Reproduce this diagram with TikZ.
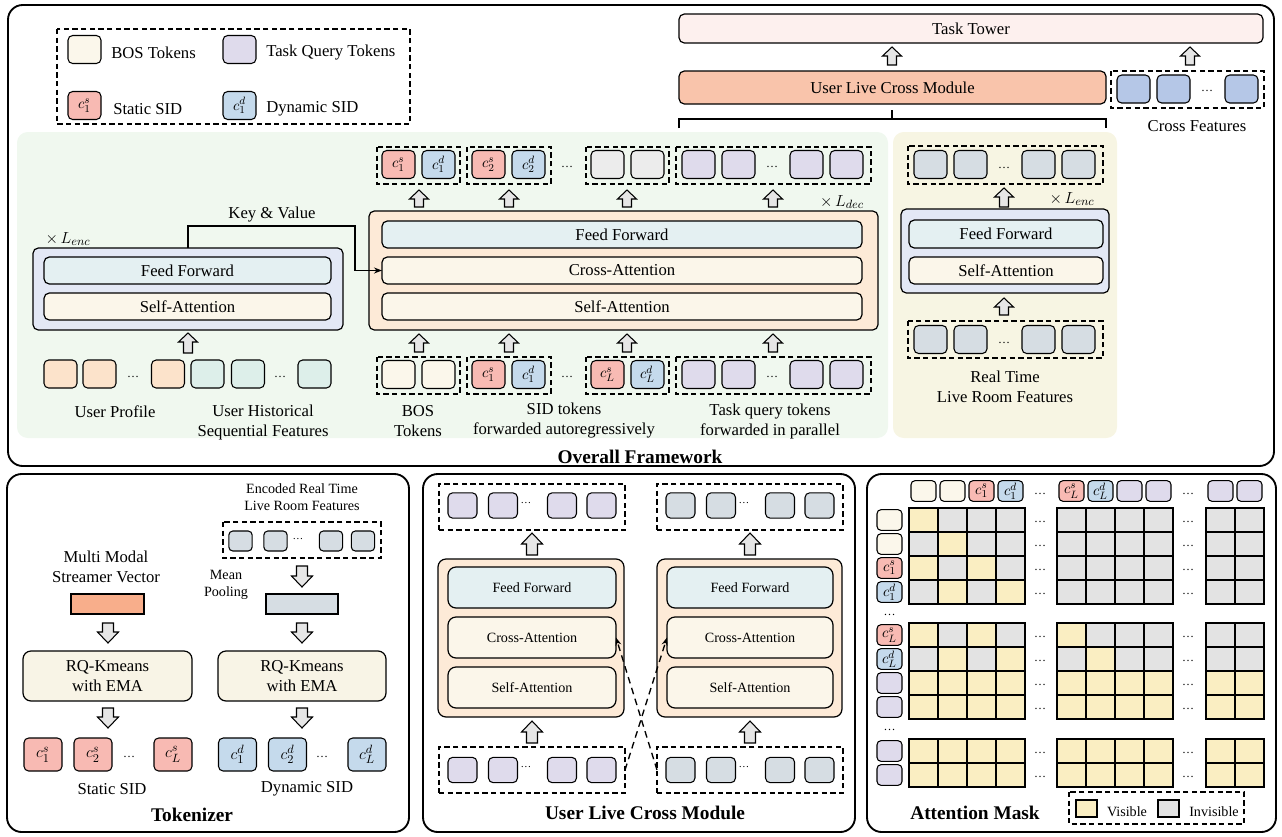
\documentclass[tikz,border=0pt]{standalone}
\usepackage{fontspec}
\setmainfont{Liberation Serif}
\usetikzlibrary{arrows.meta}
\definecolor{greenbg}{HTML}{F0F8EF}
\definecolor{yellowbg}{HTML}{F7F5E3}
\definecolor{decpeach}{HTML}{FDEAD7}
\definecolor{enclav}{HTML}{E3E8F5}
\definecolor{ffblue}{HTML}{E4F0F2}
\definecolor{attcream}{HTML}{FBF6EA}
\definecolor{ulcmsalmon}{HTML}{F9C4AB}
\definecolor{towerpink}{HTML}{FDF0EE}
\definecolor{sidred}{HTML}{F8BAB3}
\definecolor{sidblue}{HTML}{C5DAEC}
\definecolor{bosc}{HTML}{FBF7EB}
\definecolor{taskp}{HTML}{DFDBEC}
\definecolor{greytok}{HTML}{ECECEC}
\definecolor{profc}{HTML}{FCE3CB}
\definecolor{histc}{HTML}{DDEFEA}
\definecolor{livec}{HTML}{D6DDE3}
\definecolor{crossc}{HTML}{B5C7E7}
\definecolor{streamc}{HTML}{F8AE8B}
\definecolor{visc}{HTML}{FAEEC2}
\definecolor{invc}{HTML}{E3E3E3}
\definecolor{arrg}{HTML}{E6E6E6}
\definecolor{rqc}{HTML}{F8F4E6}
\newcommand\mybx[7]{\node[#1, minimum width={(#5-#3)*0.75pt}, minimum height={(#6-#4)*0.75pt}] (#2) at ({(#3+#5)/2},{(#4+#6)/2}) {#7};}
\newcommand\mytk[6]{\node[#1, fill=#5] (#2) at (#3,#4) {#6};}
\newcommand\mydots[3]{\node[dotn] (#1) at (#2,#3) {\dots};}
\newcommand\myarr[6]{\draw[barrow] ({#1-#4},#2) -- ({#1-#4},{#3+#6*sign(#2-#3)}) -- ({#1-#5},{#3+#6*sign(#2-#3)}) -- (#1,#3) -- ({#1+#5},{#3+#6*sign(#2-#3)}) -- ({#1+#4},{#3+#6*sign(#2-#3)}) -- ({#1+#4},#2) -- cycle;}
\newcommand\arrA[3]{\myarr{#1}{#2}{#3}{4.5}{9.5}{9}}
\newcommand\arrB[3]{\myarr{#1}{#2}{#3}{5.5}{10.5}{11}}
\begin{document}
\begin{tikzpicture}[x=0.75pt,y=-0.75pt, font=\fontsize{12.5}{15}\selectfont,
 tok/.style={draw, line width=0.8pt, rounded corners=3.5pt, inner sep=0pt, outer sep=0pt},
 tokA/.style={tok, minimum width=24.75pt, minimum height=21pt, font=\fontsize{11}{12}\selectfont},
 tokB/.style={tok, minimum width=21.75pt, minimum height=19pt},
 tokC/.style={tok, minimum width=17.5pt, minimum height=15pt, rounded corners=3pt},
 tokD/.style={tok, minimum width=28.5pt, minimum height=24.75pt, font=\fontsize{12.5}{13}\selectfont},
 tokE/.style={tok, minimum width=18.75pt, minimum height=15.5pt, rounded corners=3pt, font=\fontsize{11}{12}\selectfont},
 blk/.style={draw, line width=0.9pt, rounded corners=4pt, inner sep=0pt, outer sep=0pt, align=center},
 sq/.style={draw, line width=0.9pt, inner sep=0pt, outer sep=0pt},
 grp/.style={draw, line width=0.8pt, dash pattern=on 4pt off 2.5pt, inner sep=0pt, outer sep=0pt},
 panel/.style={draw, line width=1.4pt, rounded corners=11pt},
 barrow/.style={draw, fill=arrg, line width=0.8pt, line join=miter},
 dotn/.style={inner sep=0pt, font=\fontsize{9}{10}\selectfont},
 ttl/.style={inner sep=0pt, font=\fontsize{14.5}{17}\selectfont\bfseries},
 small/.style={font=\fontsize{10.6}{13}\selectfont},
 lbl/.style={align=center, inner sep=0pt},
 cell/.style={draw, line width=0.9pt},
]
\useasboundingbox (0,0) rectangle (1282,836);

% ================= Overall framework =================
\draw[panel] (8,5) rectangle (1274,466);
\node[ttl] (tOverall) at (640,457) {Overall Framework};
\fill[greenbg, rounded corners=8pt] (17,132) rectangle (888,438);
\fill[yellowbg, rounded corners=8pt] (893,132) rectangle (1117,438);

% legend
\draw[grp] (57,29) rectangle (410,124);
\mytk{tokA}{lgBos}{84.5}{49.5}{bosc}{}
\node[anchor=west, inner sep=0pt] (lgBosT) at (111,53) {BOS Tokens};
\mytk{tokA}{lgTask}{239.5}{49.5}{taskp}{}
\node[anchor=west, inner sep=0pt] (lgTaskT) at (266,53) {Task Query Tokens};
\mytk{tokA}{lgS}{84.5}{105.5}{sidred}{$c_1^s$}
\node[anchor=west, inner sep=0pt] (lgST) at (113,109) {Static SID};
\mytk{tokA}{lgD}{239.5}{105.5}{sidblue}{$c_1^d$}
\node[anchor=west, inner sep=0pt] (lgDT) at (266,109) {Dynamic SID};

% task tower / ULCM
\mybx{blk, fill=towerpink}{tower}{679}{14}{1263}{43}{Task Tower}
\mybx{blk, fill=ulcmsalmon}{ulcm}{679}{71}{1106}{104}{User Live Cross Module}
\arrA{892}{65}{47}
\arrA{1190}{65}{47}
\draw[grp] (1111,71) rectangle (1264,108);
\mytk{tokA}{cf1}{1133.5}{89}{crossc}{}
\mytk{tokA}{cf2}{1173.5}{89}{crossc}{}
\mydots{cfd}{1207}{91}
\mytk{tokA}{cf3}{1241.5}{89}{crossc}{}
\node[lbl] (cfT) at (1197,126) {Cross Features};
\draw[line width=1pt] (679,128) -- (679,119) -- (1106,119) -- (1106,128);
\draw[line width=1pt] (892,110) -- (892,119);

% decoder outputs
\draw[grp] (377,147) rectangle (460,184);
\draw[grp] (467,147) rectangle (551,184);
\draw[grp] (586,147) rectangle (669,184);
\draw[grp] (676,147) rectangle (871,184);
\mytk{tokA}{o1s}{398.5}{164.5}{sidred}{$c_1^s$}
\mytk{tokA}{o1d}{438.5}{164.5}{sidblue}{$c_1^d$}
\mytk{tokA}{o2s}{488.5}{164.5}{sidred}{$c_2^s$}
\mytk{tokA}{o2d}{528.5}{164.5}{sidblue}{$c_2^d$}
\mydots{od1}{567}{167}
\mytk{tokA}{og1}{607.5}{164.5}{greytok}{}
\mytk{tokA}{og2}{647.5}{164.5}{greytok}{}
\mytk{tokA}{oq1}{698.5}{164.5}{taskp}{}
\mytk{tokA}{oq2}{738.5}{164.5}{taskp}{}
\mydots{od2}{772}{167}
\mytk{tokA}{oq3}{806.5}{164.5}{taskp}{}
\mytk{tokA}{oq4}{846.5}{164.5}{taskp}{}
\arrA{419}{207}{190}
\arrA{509}{207}{190}
\arrA{627}{207}{190}
\arrA{773}{207}{190}
\node[inner sep=0pt] (ldec) at (842,202) {$\times\,L_{dec}$};

% decoder
\mybx{blk, fill=decpeach}{dec}{369}{211}{878}{330}{}
\mybx{blk, fill=ffblue}{dff}{382}{221}{862}{248}{Feed Forward}
\mybx{blk, fill=attcream}{dca}{382}{257}{862}{284}{Cross-Attention}
\mybx{blk, fill=attcream}{dsa}{382}{293}{862}{320}{Self-Attention}
\arrA{419}{352}{334}
\arrA{509}{352}{334}
\arrA{627}{352}{334}
\arrA{773}{352}{334}

% decoder inputs
\draw[grp] (377,357) rectangle (460,394);
\draw[grp] (467,357) rectangle (551,394);
\draw[grp] (586,357) rectangle (669,394);
\draw[grp] (676,357) rectangle (871,394);
\mytk{tokA}{ib1}{398.5}{374.5}{bosc}{}
\mytk{tokA}{ib2}{438.5}{374.5}{bosc}{}
\mytk{tokA}{i1s}{488.5}{374.5}{sidred}{$c_1^s$}
\mytk{tokA}{i1d}{528.5}{374.5}{sidblue}{$c_1^d$}
\mydots{id1}{567}{377}
\mytk{tokA}{iLs}{607.5}{374.5}{sidred}{$c_L^s$}
\mytk{tokA}{iLd}{647.5}{374.5}{sidblue}{$c_L^d$}
\mytk{tokA}{iq1}{698.5}{374.5}{taskp}{}
\mytk{tokA}{iq2}{738.5}{374.5}{taskp}{}
\mydots{id2}{772}{377}
\mytk{tokA}{iq3}{806.5}{374.5}{taskp}{}
\mytk{tokA}{iq4}{846.5}{374.5}{taskp}{}
\node[lbl] (bosT) at (418,421) {BOS\\Tokens};
\node[lbl] (sidT) at (564,421) {SID tokens\\forwarded autoregressively};
\node[lbl] (tqT) at (770,421) {Task query tokens\\forwarded in parallel};

% left encoder
\node[inner sep=0pt] (lenc1) at (68,239) {$\times\,L_{enc}$};
\mybx{blk, fill=enclav}{enc}{33}{248}{343}{330}{}
\mybx{blk, fill=ffblue}{eff}{44}{257}{331}{284}{Feed Forward}
\mybx{blk, fill=attcream}{esa}{44}{293}{331}{320}{Self-Attention}
\arrA{188}{353}{333}
\mytk{tokA}{up1}{60.5}{374}{profc}{}
\mytk{tokA}{up2}{99.5}{374}{profc}{}
\mydots{upd}{133}{377}
\mytk{tokA}{up3}{168}{374}{profc}{}
\mytk{tokA}{uh1}{207.5}{374}{histc}{}
\mytk{tokA}{uh2}{248}{374}{histc}{}
\mydots{uhd}{280}{377}
\mytk{tokA}{uh3}{314.5}{374}{histc}{}
\node[lbl] (upT) at (115,412) {User Profile};
\node[lbl] (uhT) at (263,422) {User Historical\\Sequential Features};
\draw[line width=1.1pt, -{Stealth[length=6pt,width=4.5pt]}] (enc.north) |- (355,226) |- (dca.west);
\node[inner sep=0pt] (kvT) at (272,215) {Key \& Value};

% right encoder
\draw[grp] (908,146) rectangle (1103,184);
\mytk{tokA}{ro1}{930.5}{164.5}{livec}{}
\mytk{tokA}{ro2}{970.5}{164.5}{livec}{}
\mydots{rod}{1004}{168}
\mytk{tokA}{ro3}{1038.5}{164.5}{livec}{}
\mytk{tokA}{ro4}{1078.5}{164.5}{livec}{}
\arrA{1004}{207}{188}
\node[inner sep=0pt] (lenc2) at (1072,199) {$\times\,L_{enc}$};
\mybx{blk, fill=enclav}{renc}{901}{209}{1109}{293}{}
\mybx{blk, fill=ffblue}{rff}{909}{220}{1103}{248}{Feed Forward}
\mybx{blk, fill=attcream}{rsa}{909}{257}{1103}{284}{Self-Attention}
\arrA{1004}{315}{298}
\draw[grp] (908,321) rectangle (1103,358);
\mytk{tokA}{ri1}{930.5}{339.5}{livec}{}
\mytk{tokA}{ri2}{970.5}{339.5}{livec}{}
\mydots{rid}{1004}{343}
\mytk{tokA}{ri3}{1038.5}{339.5}{livec}{}
\mytk{tokA}{ri4}{1078.5}{339.5}{livec}{}
\node[lbl] (rtT) at (1005,387) {Real Time\\Live Room Features};

% ================= Tokenizer =================
\draw[panel] (7,474) rectangle (409,832);
\node[ttl] (tTok) at (192,815) {Tokenizer};
\node[lbl, small] (encT) at (302,497) {Encoded Real Time\\Live Room Features};
\draw[grp] (223,522) rectangle (381,558);
\mytk{tokC}{tl1}{240.5}{541}{livec}{}
\mytk{tokC}{tl2}{275.5}{541}{livec}{}
\node[dotn, font=\fontsize{8}{9}\selectfont] (tld) at (298,539) {\dots};
\mytk{tokC}{tl3}{331}{541}{livec}{}
\mytk{tokC}{tl4}{363}{541}{livec}{}
\arrB{302}{566}{587}
\node[lbl, small] (mpT) at (226,585) {Mean\\Pooling};
\mybx{sq, fill=livec}{mpv}{266}{594}{338}{614}{}
\node[lbl] (mmT) at (106,567) {Multi Modal\\Streamer Vector};
\mybx{sq, fill=streamc}{msv}{71}{594}{144}{614}{}
\arrB{108}{623}{643}
\arrB{302}{623}{643}
\mybx{blk, fill=rqc, rounded corners=6pt}{rq1}{23}{651}{192}{701}{RQ-Kmeans\\with EMA}
\mybx{blk, fill=rqc, rounded corners=6pt}{rq2}{218}{651}{386}{701}{RQ-Kmeans\\with EMA}
\arrB{108}{708}{728}
\arrB{302}{708}{728}
\mytk{tokD}{ss1}{43}{754.5}{sidred}{$c_1^s$}
\mytk{tokD}{ss2}{93}{754.5}{sidred}{$c_2^s$}
\mydots{ssd}{129}{757}
\mytk{tokD}{ss3}{173}{754.5}{sidred}{$c_L^s$}
\mytk{tokD}{ds1}{237.5}{754.5}{sidblue}{$c_1^d$}
\mytk{tokD}{ds2}{287.5}{754.5}{sidblue}{$c_2^d$}
\mydots{dsd}{322}{757}
\mytk{tokD}{ds3}{367}{754.5}{sidblue}{$c_L^d$}
\node[lbl] (ssT) at (112,789) {Static SID};
\node[lbl] (dsT) at (307,789) {Dynamic SID};

% ================= User Live Cross Module panel =================
\draw[panel] (423,474) rectangle (855,832);
\node[ttl] (tUlcm) at (645,813) {User Live Cross Module};
% left column
\mybx{grp}{ltop}{439}{484}{625}{530}{}
\mytk{tokB}{lt1}{462.5}{505.5}{taskp}{}
\mytk{tokB}{lt2}{503}{505.5}{taskp}{}
\node[dotn, font=\fontsize{8}{9}\selectfont] (ltd) at (526,503) {\dots};
\mytk{tokB}{lt3}{562}{505.5}{taskp}{}
\mytk{tokB}{lt4}{601.5}{505.5}{taskp}{}
\arrB{532}{555}{533}
\mybx{blk, fill=decpeach, rounded corners=6pt}{lbox}{438}{559}{624}{717}{}
\mybx{blk, fill=ffblue, rounded corners=6pt, small}{lff}{448}{567}{616}{608}{Feed Forward}
\mybx{blk, fill=attcream, rounded corners=6pt, small}{lca}{448}{617}{616}{658}{Cross-Attention}
\mybx{blk, fill=attcream, rounded corners=6pt, small}{lsa}{448}{667}{616}{708}{Self-Attention}
\arrB{532}{743}{721}
\mybx{grp}{lbot}{439}{747}{625}{793}{}
\mytk{tokB}{lb1}{462.5}{770}{taskp}{}
\mytk{tokB}{lb2}{503}{770}{taskp}{}
\node[dotn, font=\fontsize{8}{9}\selectfont] (lbd) at (526,767) {\dots};
\mytk{tokB}{lb3}{562}{770}{taskp}{}
\mytk{tokB}{lb4}{601.5}{770}{taskp}{}
% right column
\mybx{grp}{rtop}{657}{484}{843}{530}{}
\mytk{tokB}{rt1}{680.5}{505.5}{livec}{}
\mytk{tokB}{rt2}{721}{505.5}{livec}{}
\node[dotn, font=\fontsize{8}{9}\selectfont] (rtd) at (744,503) {\dots};
\mytk{tokB}{rt3}{780}{505.5}{livec}{}
\mytk{tokB}{rt4}{819.5}{505.5}{livec}{}
\arrB{750}{555}{533}
\mybx{blk, fill=decpeach, rounded corners=6pt}{rbox}{657}{559}{842}{717}{}
\mybx{blk, fill=ffblue, rounded corners=6pt, small}{rff}{667}{567}{833}{608}{Feed Forward}
\mybx{blk, fill=attcream, rounded corners=6pt, small}{rca}{667}{617}{833}{658}{Cross-Attention}
\mybx{blk, fill=attcream, rounded corners=6pt, small}{rsa2}{667}{667}{833}{708}{Self-Attention}
\arrB{750}{743}{721}
\mybx{grp}{rbot}{657}{747}{843}{793}{}
\mytk{tokB}{rb1}{680.5}{770}{livec}{}
\mytk{tokB}{rb2}{721}{770}{livec}{}
\node[dotn, font=\fontsize{8}{9}\selectfont] (rbd) at (744,767) {\dots};
\mytk{tokB}{rb3}{780}{770}{livec}{}
\mytk{tokB}{rb4}{819.5}{770}{livec}{}
\draw[line width=1pt, dash pattern=on 5pt off 3.5pt, -{Stealth[length=6pt,width=4.5pt]}] (lbot.east) -- (rca.west);
\draw[line width=1pt, dash pattern=on 5pt off 3.5pt, -{Stealth[length=6pt,width=4.5pt]}] (rbot.west) -- (lca.east);

% ================= Attention Mask panel =================
\draw[panel] (867,474) rectangle (1276,832);
\node[ttl] (tMask) at (975,813) {Attention Mask};
\def\cxs{{909,938,967,996,1057,1086,1115,1144,1206,1235}}
\def\rys{{508,532,556,580,623,647,671,695,739,763}}
\foreach \c in {0,...,9}{\foreach \r in {0,...,9}{
 \pgfmathsetmacro\cxv{\cxs[\c]}\pgfmathsetmacro\ryv{\rys[\r]}
 \draw[cell, fill=invc] (\cxv,\ryv) rectangle ++(29,24);}}
\foreach \c/\r in {0/0,1/1,0/2,2/2,1/3,3/3,0/4,2/4,4/4,1/5,3/5,5/5}{
 \pgfmathsetmacro\cxv{\cxs[\c]}\pgfmathsetmacro\ryv{\rys[\r]}
 \draw[cell, fill=visc] (\cxv,\ryv) rectangle ++(29,24);}
\foreach \r in {6,...,9}{\foreach \c in {0,...,9}{
 \pgfmathsetmacro\cxv{\cxs[\c]}\pgfmathsetmacro\ryv{\rys[\r]}
 \draw[cell, fill=visc] (\cxv,\ryv) rectangle ++(29,24);}}
\foreach \r in {0,...,9}{
 \pgfmathsetmacro\ryv{\rys[\r]+14}
 \node[dotn] at (1040,\ryv) {\dots};
 \node[dotn] at (1188,\ryv) {\dots};}
% header tokens
\mytk{tokE}{mh1}{923.5}{491}{bosc}{}
\mytk{tokE}{mh2}{952.5}{491}{bosc}{}
\mytk{tokE}{mh3}{981.5}{491}{sidred}{$c_1^s$}
\mytk{tokE}{mh4}{1010.5}{491}{sidblue}{$c_1^d$}
\mydots{mhd1}{1040}{494}
\mytk{tokE}{mh5}{1071.5}{491}{sidred}{$c_L^s$}
\mytk{tokE}{mh6}{1100.5}{491}{sidblue}{$c_L^d$}
\mytk{tokE}{mh7}{1129.5}{491}{taskp}{}
\mytk{tokE}{mh8}{1158.5}{491}{taskp}{}
\mydots{mhd2}{1188}{494}
\mytk{tokE}{mh9}{1220.5}{491}{taskp}{}
\mytk{tokE}{mh10}{1249.5}{491}{taskp}{}
% row tokens
\mytk{tokE}{mr1}{889.5}{520}{bosc}{}
\mytk{tokE}{mr2}{889.5}{544}{bosc}{}
\mytk{tokE}{mr3}{889.5}{568}{sidred}{$c_1^s$}
\mytk{tokE}{mr4}{889.5}{592}{sidblue}{$c_1^d$}
\mydots{mrd1}{889.5}{615}
\mytk{tokE}{mr5}{889.5}{635}{sidred}{$c_L^s$}
\mytk{tokE}{mr6}{889.5}{659}{sidblue}{$c_L^d$}
\mytk{tokE}{mr7}{889.5}{683}{taskp}{}
\mytk{tokE}{mr8}{889.5}{707}{taskp}{}
\mydots{mrd2}{889.5}{730}
\mytk{tokE}{mr9}{889.5}{751}{taskp}{}
\mytk{tokE}{mr10}{889.5}{775}{taskp}{}
% legend
\draw[grp] (1069,792) rectangle (1244,824);
\mybx{sq, fill=visc}{lgVis}{1076}{800}{1097}{817}{}
\node[inner sep=0pt, small] (lgVisT) at (1127,812) {Visible};
\mybx{sq, fill=invc}{lgInv}{1158}{800}{1179}{817}{}
\node[inner sep=0pt, small] (lgInvT) at (1214,812) {Invisible};
\end{tikzpicture}
\end{document}
